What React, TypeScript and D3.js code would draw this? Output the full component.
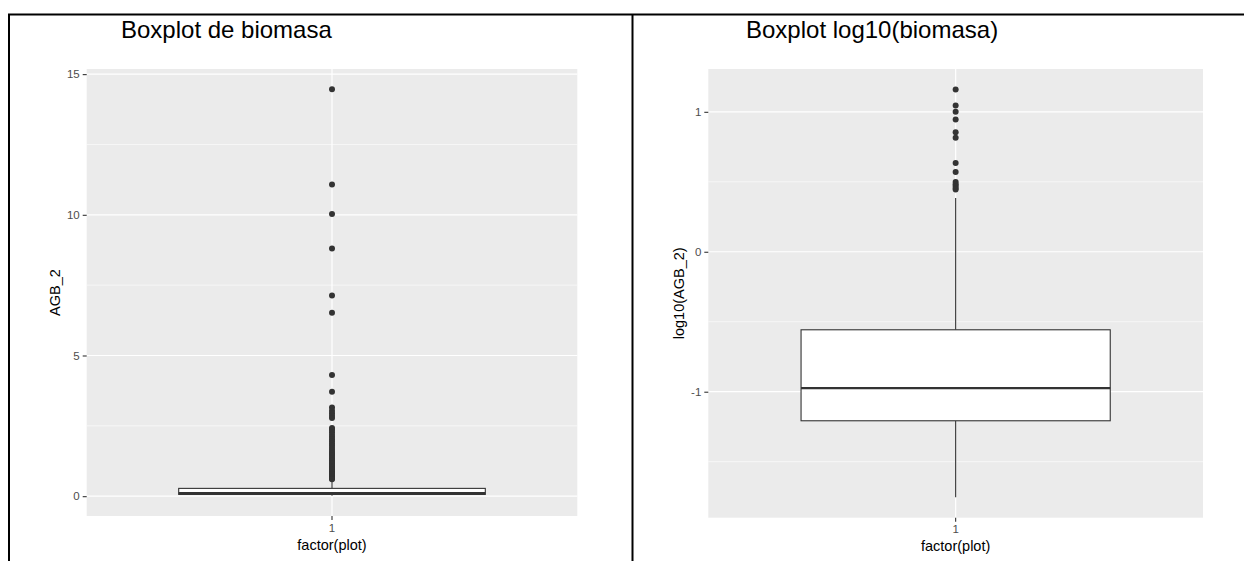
import React, { useEffect, useRef } from "react";
import * as d3 from "d3";

// biomass (AGB_2) box statistics
const boxStats = { low: 0.0176, q1: 0.062, median: 0.106, q3: 0.277, high: 0.58 };
// whisker top in the log10 plot
const logWhiskerHigh = 0.385;

// outliers of the linear boxplot (AGB_2)
const biomasaOutliers = [
  14.46, 11.08, 10.03, 8.8, 7.13, 6.52, 4.31, 3.71, 3.15, 3.04, 2.95, 2.86, 2.78,
  2.42, 2.35, 2.27, 2.18, 2.1, 2.02, 1.95, 1.87, 1.8, 1.72, 1.65, 1.58, 1.52, 1.46,
  1.4, 1.34, 1.28, 1.22, 1.17, 1.12, 1.07, 1.02, 0.97, 0.93, 0.89, 0.85, 0.81, 0.78,
  0.75, 0.72, 0.69, 0.66, 0.63, 0.6,
];

const leftMajor = [0, 5, 10, 15];
const leftMinor = [2.5, 7.5, 12.5];
const rightMajor = [-1, 0, 1];
const rightMinor = [-1.5, -0.5, 0.5];
const xCategories = ["1"];

const titles = ["Boxplot de biomasa", "Boxplot log10(biomasa)"];
const yTitles = ["AGB_2", "log10(AGB_2)"];
const xTitle = "factor(plot)";

const width = 1244;
const height = 561;
const font = "'Liberation Sans', Arial, Helvetica, sans-serif";

type Panel = {
  left: number;
  right: number;
  top: number;
  bottom: number;
  stats: { low: number; q1: number; median: number; q3: number; high: number };
  outliers: number[];
  major: number[];
  minor: number[];
  title: string;
  titleX: number;
  yTitle: string;
  yTitleX: number;
};

const drawPanel = (svg: d3.Selection<SVGSVGElement, unknown, null, undefined>, p: Panel) => {
  const lo = Math.min(p.stats.low, ...p.outliers);
  const hi = Math.max(p.stats.high, ...p.outliers);
  const pad = (hi - lo) * 0.05;
  const y = d3.scaleLinear().domain([lo - pad, hi + pad]).range([p.bottom, p.top]);
  const x = d3.scaleLinear().domain([0.4, 1.6]).range([p.left, p.right]);
  const g = svg.append("g");

  // panel background
  g.append("rect")
    .attr("x", p.left)
    .attr("y", p.top)
    .attr("width", p.right - p.left)
    .attr("height", p.bottom - p.top)
    .attr("fill", "#ebebeb");

  // gridlines
  g.selectAll(".minor")
    .data(p.minor)
    .join("line")
    .attr("x1", p.left)
    .attr("x2", p.right)
    .attr("y1", (d) => y(d))
    .attr("y2", (d) => y(d))
    .attr("stroke", "#fff")
    .attr("stroke-width", 0.6);
  g.selectAll(".major")
    .data(p.major)
    .join("line")
    .attr("x1", p.left)
    .attr("x2", p.right)
    .attr("y1", (d) => y(d))
    .attr("y2", (d) => y(d))
    .attr("stroke", "#fff")
    .attr("stroke-width", 1.2);
  g.selectAll(".vmajor")
    .data(xCategories)
    .join("line")
    .attr("x1", (d, i) => x(i + 1))
    .attr("x2", (d, i) => x(i + 1))
    .attr("y1", p.top)
    .attr("y2", p.bottom)
    .attr("stroke", "#fff")
    .attr("stroke-width", 1.2);

  // boxplot
  const cx = x(1);
  const half = x(1.375) - x(1);
  const s = p.stats;
  g.append("line")
    .attr("x1", cx).attr("x2", cx)
    .attr("y1", y(s.q3)).attr("y2", y(s.high))
    .attr("stroke", "#333").attr("stroke-width", 1.1);
  g.append("line")
    .attr("x1", cx).attr("x2", cx)
    .attr("y1", y(s.q1)).attr("y2", y(s.low))
    .attr("stroke", "#333").attr("stroke-width", 1.1);
  g.append("rect")
    .attr("x", cx - half)
    .attr("width", half * 2)
    .attr("y", y(s.q3))
    .attr("height", y(s.q1) - y(s.q3))
    .attr("fill", "#fff")
    .attr("stroke", "#333")
    .attr("stroke-width", 1.1);
  g.append("line")
    .attr("x1", cx - half).attr("x2", cx + half)
    .attr("y1", y(s.median)).attr("y2", y(s.median))
    .attr("stroke", "#333").attr("stroke-width", 2.2);

  // outliers
  g.selectAll(".pt")
    .data(p.outliers)
    .join("circle")
    .attr("cx", cx)
    .attr("cy", (d) => y(d))
    .attr("r", 3)
    .attr("fill", "#333");

  // y axis
  const yAxis = d3.axisLeft(y).tickValues(p.major).tickSize(4).tickPadding(3).tickFormat(d3.format("d"));
  const ya = g.append("g").attr("transform", `translate(${p.left},0)`).call(yAxis);
  ya.select(".domain").remove();
  ya.selectAll("line").attr("stroke", "#333").attr("stroke-width", 1.1);
  ya.selectAll("text")
    .attr("fill", "#4d4d4d")
    .style("font-family", font)
    .style("font-size", "11.5px")
    .text((d: any) => (d < 0 ? "-" + Math.abs(d) : String(d)));

  // x axis
  const xa = g.append("g");
  xa.selectAll("line")
    .data(xCategories)
    .join("line")
    .attr("x1", (d, i) => x(i + 1))
    .attr("x2", (d, i) => x(i + 1))
    .attr("y1", p.bottom)
    .attr("y2", p.bottom + 4)
    .attr("stroke", "#333")
    .attr("stroke-width", 1.1);
  xa.selectAll("text")
    .data(xCategories)
    .join("text")
    .attr("x", (d, i) => x(i + 1))
    .attr("y", p.bottom + 15.5)
    .attr("text-anchor", "middle")
    .attr("fill", "#4d4d4d")
    .style("font-family", font)
    .style("font-size", "11.5px")
    .text((d) => d);

  g.append("text")
    .attr("x", cx)
    .attr("y", p.bottom + 33.5)
    .attr("text-anchor", "middle")
    .style("font-family", font)
    .style("font-size", "14.5px")
    .text(xTitle);

  g.append("text")
    .attr("transform", `translate(${p.yTitleX},${(p.top + p.bottom) / 2}) rotate(-90)`)
    .attr("text-anchor", "middle")
    .style("font-family", font)
    .style("font-size", "14.5px")
    .text(p.yTitle);

  // panel title
  g.append("text")
    .attr("x", p.titleX)
    .attr("y", 38)
    .style("font-family", font)
    .style("font-size", "24px")
    .text(p.title);
};

const App = () => {
  const svgRef = useRef<SVGSVGElement>(null);

  useEffect(() => {
    const svg = d3.select(svgRef.current as SVGSVGElement);
    svg.selectAll("*").remove();

    svg.append("rect").attr("width", width).attr("height", height).attr("fill", "#fff");

    drawPanel(svg, {
      left: 86.7,
      right: 577.3,
      top: 69,
      bottom: 516,
      stats: boxStats,
      outliers: biomasaOutliers,
      major: leftMajor,
      minor: leftMinor,
      title: titles[0],
      titleX: 121,
      yTitle: yTitles[0],
      yTitleX: 60,
    });

    const log = (v: number) => Math.log10(v);
    drawPanel(svg, {
      left: 708.3,
      right: 1203,
      top: 69,
      bottom: 517.7,
      stats: {
        low: log(boxStats.low),
        q1: log(boxStats.q1),
        median: log(boxStats.median),
        q3: log(boxStats.q3),
        high: logWhiskerHigh,
      },
      outliers: biomasaOutliers.map(log).filter((v) => v > logWhiskerHigh),
      major: rightMajor,
      minor: rightMinor,
      title: titles[1],
      titleX: 746,
      yTitle: yTitles[1],
      yTitleX: 684,
    });

    // frame lines
    const frame = svg.append("g").attr("stroke", "#000").attr("stroke-width", 2);
    frame.append("line").attr("x1", 8).attr("x2", width).attr("y1", 14.5).attr("y2", 14.5);
    frame.append("line").attr("x1", 9).attr("x2", 9).attr("y1", 14.5).attr("y2", height);
    frame.append("line").attr("x1", 632.5).attr("x2", 632.5).attr("y1", 14.5).attr("y2", height);
  }, []);

  return (
    <svg
      ref={svgRef}
      width={width}
      height={height}
      style={{ position: "absolute", left: 0, top: 0, display: "block" }}
    ></svg>
  );
};

export default App;
